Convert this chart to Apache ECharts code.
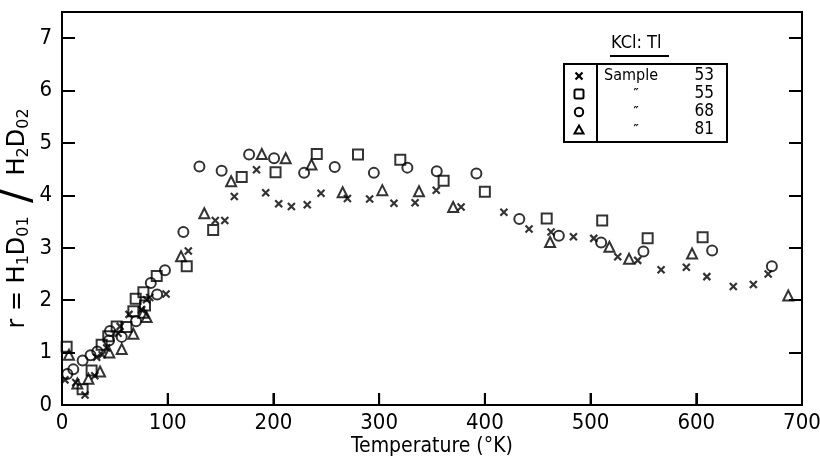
<!DOCTYPE html>
<html>
<head>
<meta charset="utf-8">
<script src="https://cdn.jsdelivr.net/npm/echarts@6/dist/echarts.min.js"></script>
<style>
  html, body { margin: 0; padding: 0; background: #fff; }
  #chart { width: 820px; height: 468px; }
</style>
</head>
<body>
<div id="chart"></div>
<script>
// Temperature (°K) vs ratio r = H1D01 / H2D02 for KCl:Tl samples
const xRange = [0, 700];
const xStep = 100;
const xTickValues = [100, 200, 300, 400, 500, 600];
const yRange = [0, 7.5];
const yStep = 1;

// Sample 53 (crosses)
const sample53 = [
  [2.8, 0.48], [13, 0.43], [21.8, 0.19], [31, 0.56], [32.8, 0.91], [38, 0.96],
  [42.3, 1.09], [53, 1.37], [55, 1.5], [63.4, 1.73], [75.4, 1.82], [80, 2.01],
  [83, 2.05], [98.4, 2.12], [119.5, 2.94], [145, 3.52], [154, 3.52], [163, 3.98],
  [184, 4.49], [192.7, 4.05], [205, 3.84], [217, 3.79], [232, 3.82], [245, 4.04],
  [270, 3.94], [291, 3.93], [314, 3.85], [334, 3.86], [354, 4.1], [377.5, 3.78],
  [418, 3.68], [441.8, 3.36], [462.6, 3.3], [483.8, 3.21], [503, 3.18], [525.7, 2.83],
  [544.6, 2.76], [566.7, 2.58], [590.6, 2.63], [610, 2.45], [635, 2.26], [654, 2.3],
  [668, 2.5]
];

// Sample 55 (squares)
const sample55 = [
  [4.4, 1.11], [19.5, 0.3], [28, 0.66], [37.5, 1.15], [43.8, 1.31], [51.7, 1.5],
  [61, 1.49], [67.5, 1.79], [69.7, 2.03], [77, 2.15], [78.5, 1.9], [89.6, 2.46],
  [118, 2.65], [143, 3.34], [170, 4.35], [202, 4.44], [241, 4.79], [280, 4.78],
  [320, 4.68], [361, 4.28], [400, 4.07], [458.5, 3.56], [511, 3.52], [554, 3.18],
  [606, 3.2]
];

// Sample 68 (circles)
const sample68 = [
  [5, 0.59], [10.7, 0.68], [19.5, 0.85], [27, 0.95], [33.4, 1.02], [44.5, 1.23],
  [45.4, 1.41], [56.5, 1.3], [70, 1.6], [84, 2.33], [90, 2.11], [97.4, 2.57],
  [114.8, 3.3], [130, 4.55], [151, 4.47], [177, 4.78], [200.6, 4.71], [229, 4.43],
  [258, 4.54], [295, 4.43], [326.7, 4.53], [354.5, 4.46], [392, 4.42], [432.6, 3.55],
  [470, 3.23], [510, 3.1], [550, 2.93], [615, 2.95], [671.5, 2.65]
];

// Sample 81 (triangles)
const sample81 = [
  [6.6, 0.96], [14.5, 0.41], [25, 0.5], [36, 0.64], [44.8, 1.0], [56.5, 1.07],
  [67.5, 1.36], [77, 1.76], [80, 1.68], [112.6, 2.84], [134.6, 3.66], [160, 4.27],
  [189, 4.79], [211.6, 4.71], [236, 4.59], [265.5, 4.06], [303, 4.1], [337.7, 4.08],
  [370, 3.78], [461.7, 3.11], [517.8, 3.02], [536.4, 2.79], [596, 2.89], [687, 2.09]
];

// Legend table rows: label, sample number
const legendTitle = 'KCl: Tl';
const legendLabels = ['Sample', '\u2033', '\u2033', '\u2033'];
const legendNumbers = ['53', '55', '68', '81'];

const FONT = '"Liberation Sans Narrow", "DejaVu Sans Condensed", sans-serif';
const LEG = '"DejaVu Sans Condensed", "DejaVu Sans", sans-serif';
const WIDE = '"DejaVu Sans", sans-serif';
const INK = '#000';
const crossPath = 'path://M0,0L10,10M10,0L0,10';
const GRID = { left: 62, right: 18, top: 12, bottom: 63 };
const X_TICK_LEN = 12;                 // px
const X_TICK_SPAN = 0.23;              // same length in r units, for the tick lines
const tickLineStyle = { color: INK, width: 2, type: 'solid' };

const chart = echarts.init(document.getElementById('chart'), null, { renderer: 'canvas' });

function markerStyle(width) {
  return { color: 'rgba(0,0,0,0)', borderColor: INK, borderWidth: width };
}

const axisLineStyle = { show: true, onZero: false, lineStyle: { color: INK, width: 2 } };

// Legend box geometry
const L = { x0: 564, x1: 727, y0: 64, y1: 142, div: 597, mx: 579, rows: [76, 94, 112, 130] };

const legendGraphics = [
  { id: 'lg-title', type: 'text', left: 611, top: 34, style: { text: legendTitle, font: '18px ' + LEG, fill: INK } },
  { id: 'lg-under', type: 'line', shape: { x1: 610, y1: 56, x2: 669, y2: 56 }, style: { stroke: INK, lineWidth: 2 } },
  { id: 'lg-box', type: 'rect', shape: { x: L.x0, y: L.y0, width: L.x1 - L.x0, height: L.y1 - L.y0 },
    style: { fill: 'none', stroke: INK, lineWidth: 2 } },
  { id: 'lg-div', type: 'line', shape: { x1: L.div, y1: L.y0, x2: L.div, y2: L.y1 }, style: { stroke: INK, lineWidth: 2 } },
  // markers
  { id: 'lg-x1', type: 'line', shape: { x1: L.mx - 3.5, y1: L.rows[0] - 3.5, x2: L.mx + 3.5, y2: L.rows[0] + 3.5 }, style: { stroke: INK, lineWidth: 2.2 } },
  { id: 'lg-x2', type: 'line', shape: { x1: L.mx + 3.5, y1: L.rows[0] - 3.5, x2: L.mx - 3.5, y2: L.rows[0] + 3.5 }, style: { stroke: INK, lineWidth: 2.2 } },
  { id: 'lg-sq', type: 'rect', shape: { x: L.mx - 4.5, y: L.rows[1] - 4.5, width: 9, height: 9, r: 1.5 }, style: { fill: 'none', stroke: INK, lineWidth: 2 } },
  { id: 'lg-ci', type: 'circle', shape: { cx: L.mx, cy: L.rows[2], r: 4.2 }, style: { fill: 'none', stroke: INK, lineWidth: 2 } },
  { id: 'lg-tr', type: 'polygon', shape: { points: [[L.mx, L.rows[3] - 4.5], [L.mx + 4.5, L.rows[3] + 3.5], [L.mx - 4.5, L.rows[3] + 3.5]] }, style: { fill: 'none', stroke: INK, lineWidth: 2 } }
];
legendLabels.forEach((t, i) => {
  const isWord = i === 0;
  legendGraphics.push({
    id: 'lg-lab' + i, type: 'text', x: isWord ? 604 : 636, y: L.rows[i],
    style: { text: t, font: (isWord ? '16px ' : 'bold 13px ') + LEG, fill: INK, textAlign: isWord ? 'left' : 'center', textVerticalAlign: 'middle' }
  });
  legendGraphics.push({
    id: 'lg-num' + i, type: 'text', x: 714, y: L.rows[i],
    style: { text: legendNumbers[i], font: '17px ' + LEG, fill: INK, textAlign: 'right', textVerticalAlign: 'middle' }
  });
});

// Inward ticks on the temperature axis as short mark lines in data space
const xTickMarkLines = xTickValues.map(v => [{ coord: [v, yRange[0]] }, { coord: [v, yRange[0] + X_TICK_SPAN] }]);

const option = {
  animation: false,
  backgroundColor: '#fff',
  grid: Object.assign({
    containLabel: false, outerBoundsMode: 'none',
    show: true, borderColor: INK, borderWidth: 2, backgroundColor: 'transparent'
  }, GRID),
  xAxis: {
    type: 'value', min: xRange[0], max: xRange[1], interval: xStep,
    axisLine: axisLineStyle,
    axisTick: { show: true, inside: true, length: X_TICK_LEN, lineStyle: { color: INK, width: 2 } },
    axisLabel: { color: INK, fontFamily: FONT, fontSize: 22, margin: 7 },
    splitLine: { show: false },
    name: 'Temperature (\u00B0K)', nameLocation: 'middle', nameGap: 31, nameMoveOverlap: false,
    nameTextStyle: { color: INK, fontFamily: FONT, fontSize: 21 }
  },
  yAxis: [
    {
      type: 'value', position: 'left', min: yRange[0], max: yRange[1], interval: yStep,
      axisLine: axisLineStyle,
      axisTick: { show: true, inside: true, length: 13, lineStyle: { color: INK, width: 2 } },
      axisLabel: {
        color: INK, fontFamily: FONT, fontSize: 22, margin: 10,
        formatter: v => (Number.isInteger(v) ? String(v) : '')
      },
      splitLine: { show: false },
      name: '{a|r = H}{s|1}{a|D}{s|01}{sl| / }{a|H}{s|2}{a|D}{s|02}',
      nameLocation: 'middle', nameGap: 30, nameMoveOverlap: false,
      nameTextStyle: {
        color: INK, fontFamily: WIDE, padding: [0, 20, 0, 0],
        rich: {
          a: { fontFamily: WIDE, fontSize: 24, color: INK, lineHeight: 28 },
          s: { fontFamily: WIDE, fontSize: 16, color: INK, lineHeight: 16, verticalAlign: 'bottom' },
          sl: { fontFamily: WIDE, fontSize: 42, color: INK, lineHeight: 28 }
        }
      }
    },
    {
      type: 'value', position: 'right', min: yRange[0], max: yRange[1], interval: yStep,
      axisLine: axisLineStyle,
      axisTick: { show: true, inside: true, length: 13, lineStyle: { color: INK, width: 2 } },
      axisLabel: { show: false }, splitLine: { show: false }
    }
  ],
  series: [
    { name: 'Sample 53', type: 'scatter', data: sample53, symbol: crossPath, symbolSize: 7,
      itemStyle: markerStyle(2.2), emphasis: { disabled: true },
      markLine: {
        silent: true, symbol: ['none', 'none'], label: { show: false },
        lineStyle: tickLineStyle, emphasis: { disabled: true }, animation: false,
        data: xTickMarkLines
      }
    },
    { name: 'Sample 55', type: 'scatter', data: sample55, symbol: 'rect', symbolSize: 10,
      itemStyle: markerStyle(2), emphasis: { disabled: true } },
    { name: 'Sample 68', type: 'scatter', data: sample68, symbol: 'circle', symbolSize: 10,
      itemStyle: markerStyle(2), emphasis: { disabled: true } },
    { name: 'Sample 81', type: 'scatter', data: sample81, symbol: 'triangle', symbolSize: 10,
      itemStyle: markerStyle(2), emphasis: { disabled: true } }
  ],
  graphic: { elements: legendGraphics }
};

chart.setOption(option);

// Same ticks once more as plain lines, positioned through the grid's coordinate system
const tickGraphics = [];
xTickValues.forEach((v, i) => {
  let p = chart.convertToPixel({ gridIndex: 0 }, [v, yRange[0]]);
  if (!p || !isFinite(p[0]) || !isFinite(p[1])) {
    const w = 820 - GRID.left - GRID.right;
    p = [GRID.left + (v - xRange[0]) / (xRange[1] - xRange[0]) * w, 468 - GRID.bottom];
  }
  tickGraphics.push({
    id: 'xtick' + i, type: 'line', z: 100,
    shape: { x1: p[0], y1: p[1], x2: p[0], y2: p[1] - X_TICK_LEN },
    style: { stroke: INK, lineWidth: 2 }
  });
});
chart.setOption({ graphic: { elements: legendGraphics.concat(tickGraphics) } });
</script>
</body>
</html>
